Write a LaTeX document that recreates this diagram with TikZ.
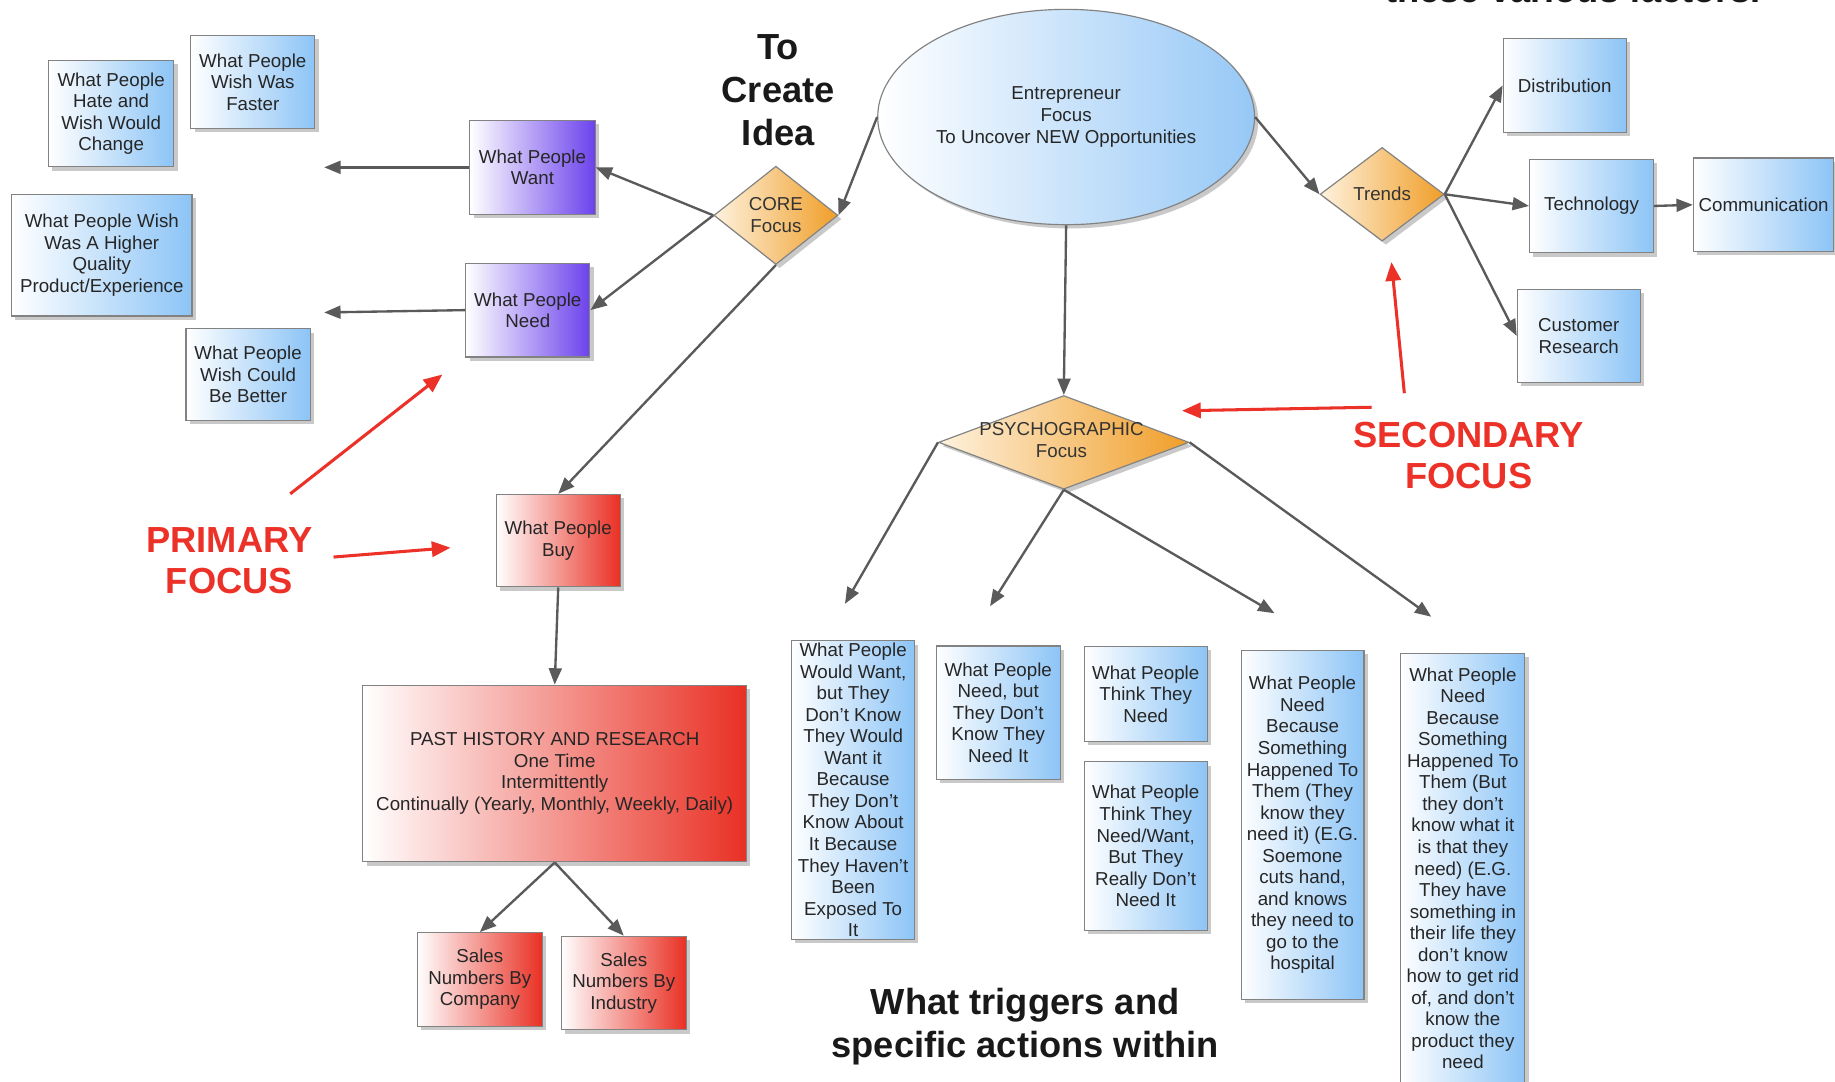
\documentclass[tikz,border=0pt]{standalone}
\usepackage{fontspec}
\setmainfont{Liberation Sans}
\usetikzlibrary{shapes.geometric,shadows,arrows.meta}
\definecolor{bxblue}{RGB}{140,196,246}
\definecolor{bxpurple}{RGB}{108,66,236}
\definecolor{bxred}{RGB}{233,48,36}
\definecolor{bxorange}{RGB}{240,158,40}
\definecolor{bxorangeL}{RGB}{254,242,222}
\definecolor{ellblue}{RGB}{150,200,246}
\definecolor{edgegray}{RGB}{130,130,130}
\definecolor{arrowgray}{RGB}{90,90,90}
\definecolor{annred}{RGB}{236,50,40}
\begin{document}
\begin{tikzpicture}[x=0.5pt,y=-0.5pt,
  sz/.style 2 args={minimum width={#1*0.5pt}, minimum height={#2*0.5pt}},
  base/.style={draw=edgegray, line width=0.5pt, align=center, inner sep=1pt,
    text=black!85, font=\fontsize{8}{9.2}\selectfont,
    drop shadow={shadow xshift=1.6pt, shadow yshift=-1.6pt, opacity=0.35, fill=black!60}},
  bluebox/.style={base, rectangle, left color=white, right color=bxblue},
  purplebox/.style={base, rectangle, left color=white, right color=bxpurple},
  redbox/.style={base, rectangle, left color=white, right color=bxred},
  dmd/.style={base, diamond, inner sep=0pt, left color=bxorangeL, right color=bxorange},
  dtext/.style={align=center, inner sep=0pt, text=black!80, font=\fontsize{8}{9.3}\selectfont},
  conn/.style={draw=arrowgray, line width=1pt, -{Triangle[length=7pt,width=5.5pt]}},
  ann/.style={draw=annred, line width=1.3pt, -{Triangle[length=8pt,width=6.5pt]}},
  head/.style={align=center, font=\bfseries\fontsize{15.5}{18.3}\selectfont, text=black!90},
  redhead/.style={align=center, font=\bfseries\fontsize{15.5}{17.5}\selectfont, text=annred}
]
\useasboundingbox (0,0) rectangle (1568,924);
\fill[white] (0,0) rectangle (1568,924);
\clip (0,0) rectangle (1568,924);

% top cut text (cut off at the top edge, as in the reference)
\node[head, anchor=base] (topcut) at (1344,2) {these various factors.};

% left blue boxes
\node[bluebox, sz={107}{91}] (hate) at (95,97) {What People\\Hate and\\Wish Would\\Change};
\node[bluebox, sz={106}{79}] (faster) at (216,70) {What People\\Wish Was\\Faster};
\node[bluebox, sz={154}{104}] (quality) at (87,218) {What People Wish\\Was A Higher\\Quality\\Product/Experience};
\node[bluebox, sz={106}{78}] (better) at (212,320) {What People\\Wish Could\\Be Better};

% purple boxes
\node[purplebox, sz={107}{80}] (want) at (455,143) {What People\\Want};
\node[purplebox, sz={106}{80}] (need) at (451,265) {What People\\Need};

% core focus
\node[dmd, sz={106}{84}] (core) at (663,184) {};
\node[dtext] (coretxt) at (core) {CORE\\Focus};

% headings
\node[head] (create) at (665,77) {To\\Create\\Idea};

% entrepreneur ellipse
\node[base, ellipse, inner sep=0pt, left color=white, right color=ellblue, sz={322}{184}] (ent) at (911,100)
  {Entrepreneur\\Focus\\To Uncover NEW Opportunities};

% trends
\node[dmd, sz={106}{80}] (trends) at (1181,166) {};
\node[dtext] (trendstxt) at (trends) {Trends};
\node[bluebox, sz={105}{80}] (dist) at (1337,73) {Distribution};
\node[bluebox, sz={106}{80}] (tech) at (1360,176) {Technology};
\node[bluebox, sz={120}{80}] (comm) at (1507,175) {Communication};
\node[bluebox, sz={105}{79}] (cust) at (1349,287) {Customer\\Research};

% psychographic
\node[dmd, sz={214}{80}] (psy) at (909,378) {};
\node[dtext] (psytxt) at (907,376) {PSYCHOGRAPHIC\\Focus};

% red branch
\node[redbox, sz={106}{79}] (buy) at (477,462) {What People\\Buy};
\node[redbox, sz={328}{151}] (past) at (474,661) {PAST HISTORY AND RESEARCH\\One Time\\Intermittently\\Continually (Yearly, Monthly, Weekly, Daily)};
\node[redbox, sz={107}{80}] (salesc) at (410,837) {Sales\\Numbers By\\Company};
\node[redbox, sz={107}{80}] (salesi) at (533,840) {Sales\\Numbers By\\Industry};

% bottom blue boxes
\node[bluebox, sz={105}{254}] (c1) at (729,675) {What People\\Would Want,\\but They\\Don't Know\\They Would\\Want it\\Because\\They Don't\\Know About\\It Because\\They Haven't\\Been\\Exposed To\\It};
\node[bluebox, sz={106}{114}] (c2) at (853,609) {What People\\Need, but\\They Don't\\Know They\\Need It};
\node[bluebox, sz={105}{81}] (c3) at (979,593) {What People\\Think They\\Need};
\node[bluebox, sz={105}{144}] (c4) at (979,723) {What People\\Think They\\Need/Want,\\But They\\Really Don't\\Need It};
\node[bluebox, sz={105}{298}] (c5) at (1113,705) {What People\\Need\\Because\\Something\\Happened To\\Them (They\\know they\\need it) (E.G.\\Soemone\\cuts hand,\\and knows\\they need to\\go to the\\hospital};
\node[bluebox, sz={106}{367}] (c6) at (1250,742) {What People\\Need\\Because\\Something\\Happened To\\Them (But\\they don't\\know what it\\is that they\\need) (E.G.\\They have\\something in\\their life they\\don't know\\how to get rid\\of, and don't\\know the\\product they\\need};

% headings
\node[redhead] (primary) at (196,479) {PRIMARY\\FOCUS};
\node[redhead] (secondary) at (1255,389) {SECONDARY\\FOCUS};
\node[head] (triggers) at (876,877) {What triggers and\\specific actions within};

% free ends
\coordinate (wantend) at (277,143);
\coordinate (needend) at (277,267);
\coordinate (p1) at (722,516);
\coordinate (p2) at (846,518);
\coordinate (p3) at (1089,524);
\coordinate (p4) at (1223,527);
\coordinate (pa1) at (248,422);
\coordinate (pa1e) at (378,320);
\coordinate (pa2) at (285,476);
\coordinate (pa2e) at (385,468);
\coordinate (sa1) at (1172,348);
\coordinate (sa1e) at (1010,351);
\coordinate (sa2) at (1200,336);
\coordinate (sa2e) at (1189,224);

% connectors
\draw[conn] (want.west) -- (wantend);
\draw[conn] (need.west) -- (needend);
\draw[conn] (core.west) -- (want.east);
\draw[conn] (core.west) -- (need.east);
\draw[conn] (core.south) -- (buy.north);
\draw[conn] (ent.west) -- (core.east);
\draw[conn] (ent.south) -- (psy.north);
\draw[conn] (ent.east) -- (trends.west);
\draw[conn] (trends.east) -- (dist.west);
\draw[conn] (trends.east) -- (tech.west);
\draw[conn] (trends.east) -- (cust.west);
\draw[conn] (tech.east) -- (comm.west);
\draw[conn] (buy.south) -- (past.north);
\draw[conn] (past.south) -- (salesc.north);
\draw[conn] (past.south) -- (salesi.north);
\draw[conn] (psy.west) -- (p1);
\draw[conn] (psy.south) -- (p2);
\draw[conn] (psy.south) -- (p3);
\draw[conn] (psy.east) -- (p4);

% annotation arrows
\draw[ann] (pa1) -- (pa1e);
\draw[ann] (pa2) -- (pa2e);
\draw[ann] (sa1) -- (sa1e);
\draw[ann] (sa2) -- (sa2e);
\end{tikzpicture}
\end{document}
